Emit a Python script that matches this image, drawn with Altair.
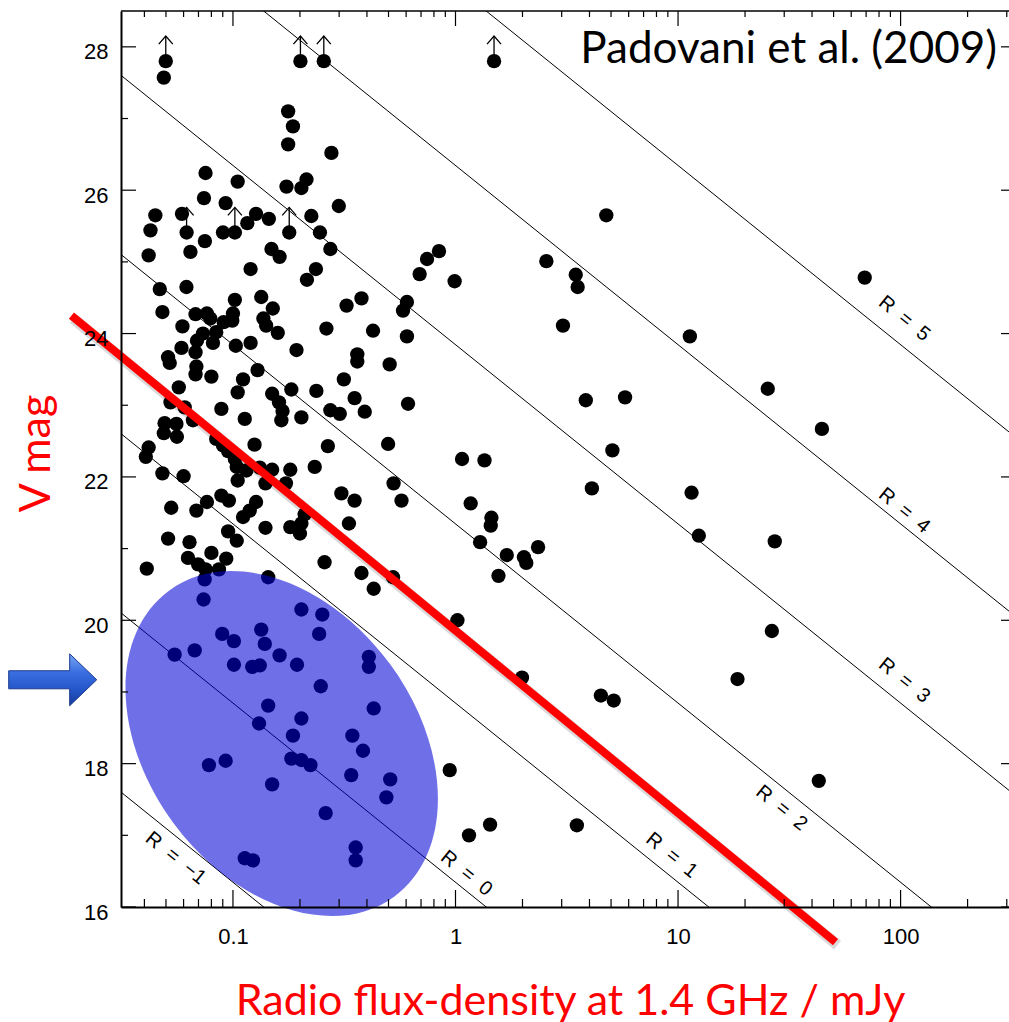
import altair as alt
import pandas as pd
import numpy as np

# ---------------- data ----------------
flux_mjy = [
    0.0499, 0.0489, 0.201, 0.256, 1.49, 0.177, 0.186, 0.177, 0.277, 0.0753,
    0.105, 0.214, 0.174, 0.203, 0.0741, 0.0927, 0.299, 0.0448, 0.0590, 0.127,
    0.145, 0.116, 0.225, 0.0426, 0.0619, 0.0902, 0.102, 0.179, 0.246, 0.0748,
    0.0418, 0.0644, 0.149, 0.162, 0.274, 0.120, 0.236, 0.215, 0.0469, 0.0618,
    0.102, 0.134, 0.151, 0.0482, 0.0679, 0.0764, 0.100, 0.0791, 0.137, 0.141,
    0.0593, 0.0908, 0.0993, 0.0733, 0.0841, 0.324, 0.378, 0.263, 0.426, 0.159,
    0.0689, 0.0813, 0.0587, 0.103, 0.120, 0.193, 0.0679, 0.0511, 0.0520, 0.362,
    0.362, 0.0685, 0.129, 0.0800, 0.111, 0.0679, 0.315, 0.0571, 0.105, 0.150,
    0.183, 0.237, 0.352, 0.391, 0.274, 0.302, 0.0524, 0.0607, 0.0887, 0.161,
    0.167, 0.165, 0.113, 0.203, 0.0661, 0.0493, 0.0557, 0.0489, 0.0560, 0.0841,
    0.125, 0.267, 0.0902, 0.0951, 0.0418, 0.0406, 0.102, 0.233, 0.0482, 0.0600,
    0.104, 0.115, 0.132, 0.150, 0.181, 0.105, 0.140, 0.173, 0.0887, 0.0959,
    0.0764, 0.307, 0.352, 0.0528, 0.0685, 0.127, 0.119, 0.111, 0.210, 0.332,
    0.140, 0.181, 0.203, 0.200, 0.0951, 0.104, 0.0511, 0.0638, 0.0800, 0.0933,
    0.0628, 0.0697, 0.0753, 0.0410, 0.0865, 0.258, 0.378, 0.429, 0.0746, 0.144,
    4.76, 0.843, 0.745, 0.690, 0.991, 2.56, 3.47, 3.54, 0.605, 0.581,
    0.605, 3.04, 0.506, 0.612, 0.498, 1.07, 1.35, 3.85, 5.78, 5.07,
    4.10, 0.527, 0.572, 1.17, 1.45, 1.44, 1.29, 1.70, 2.03, 2.08,
    2.35, 1.56, 0.524, 1.02, 1.99, 4.50, 5.14, 0.942, 1.15, 1.43,
    3.51, 11.3, 25.3, 44.3, 11.5, 12.4, 27.2, 26.4, 18.5, 42.9,
    69.0, 0.0738, 0.203, 0.252, 0.244, 0.134, 0.139, 0.0895, 0.101, 0.0547,
    0.0673, 0.101, 0.122, 0.132, 0.162, 0.194, 0.408, 0.408, 0.248, 0.429,
    0.144, 0.131, 0.203, 0.186, 0.344, 0.384, 0.0780, 0.0927, 0.183, 0.203,
    0.223, 0.340, 0.150, 0.509, 0.489, 0.261, 0.356, 0.356, 0.113, 0.123,
]
v_mag = [
    27.80, 27.57, 27.80, 27.80, 27.80, 27.10, 26.89, 26.64, 26.52, 26.24,
    26.12, 26.15, 26.05, 26.03, 25.89, 25.82, 25.78, 25.65, 25.67, 25.67,
    25.60, 25.54, 25.64, 25.44, 25.41, 25.41, 25.41, 25.41, 25.41, 25.29,
    25.09, 25.14, 25.18, 25.07, 25.18, 24.90, 24.90, 24.75, 24.62, 24.65,
    24.47, 24.51, 24.35, 24.30, 24.27, 24.28, 24.28, 24.21, 24.21, 24.11,
    24.10, 24.16, 24.18, 24.00, 24.02, 24.39, 24.49, 24.07, 24.04, 24.01,
    23.90, 23.87, 23.80, 23.83, 23.87, 23.77, 23.74, 23.67, 23.59, 23.71,
    23.61, 23.54, 23.49, 23.40, 23.36, 23.43, 23.36, 23.25, 23.18, 23.16,
    23.22, 23.20, 23.10, 22.91, 22.93, 22.88, 23.04, 22.97, 22.95, 23.04,
    22.92, 22.79, 22.81, 22.83, 22.79, 22.75, 22.74, 22.61, 22.56, 22.53,
    22.45, 22.43, 22.44, 22.36, 22.41, 22.28, 22.25, 22.14, 22.05, 22.01,
    22.14, 22.09, 22.13, 22.10, 22.10, 21.95, 21.91, 21.91, 21.74, 21.67,
    21.65, 21.77, 21.67, 21.57, 21.53, 21.65, 21.53, 21.44, 21.48, 21.35,
    21.29, 21.30, 21.35, 21.21, 21.24, 21.11, 21.14, 21.09, 20.94, 20.86,
    20.87, 20.78, 20.71, 20.72, 20.71, 20.81, 20.66, 20.44, 20.57, 20.60,
    25.65, 25.15, 25.04, 24.83, 24.73, 25.01, 24.82, 24.65, 24.44, 24.32,
    23.96, 24.11, 23.57, 23.02, 22.46, 22.25, 22.23, 23.07, 23.11, 22.37,
    21.84, 21.91, 21.67, 21.63, 21.43, 21.32, 21.09, 20.91, 20.88, 20.80,
    21.02, 20.62, 20.60, 20.00, 19.20, 18.95, 18.88, 17.91, 17.00, 17.15,
    17.14, 23.96, 23.23, 22.67, 21.78, 21.18, 21.10, 19.85, 19.18, 17.76,
    24.78, 20.29, 20.15, 20.08, 19.81, 19.87, 19.67, 19.81, 19.71, 19.52,
    19.58, 19.38, 19.35, 19.37, 19.51, 19.38, 19.49, 19.35, 19.08, 18.77,
    18.81, 18.56, 18.63, 18.39, 18.39, 18.18, 17.98, 18.04, 18.07, 18.05,
    17.98, 17.84, 17.71, 17.78, 17.53, 17.31, 16.83, 16.65, 16.68, 16.65,
]

# lower limits (upward arrows)
limit_flux = [0.0499, 0.201, 0.256, 1.49, 0.0619, 0.102, 0.179]
limit_v = [27.80, 27.80, 27.80, 27.80, 25.41, 25.41, 25.41]

# radio-loudness lines R = log S + 0.4 V - 6.538
r_values = [-1, 0, 1, 2, 3, 4, 5]
SP = "\u00a0\u00a0"
r_label_text = [f"R{SP}={SP}\u22121", f"R{SP}={SP}0", f"R{SP}={SP}1", f"R{SP}={SP}2",
                f"R{SP}={SP}3", f"R{SP}={SP}4", f"R{SP}={SP}5"]
r_label_flux = [0.0553, 1.12, 9.37, 29.2, 104, 104, 104]
r_label_v = [16.68, 16.47, 16.72, 17.38, 19.16, 21.53, 24.21]
R_ZERO = 6.538

# red dividing line (end points)
red_flux = [0.0188, 51.0]
red_v = [24.25, 15.51]

# shaded ellipse and blue arrow (centres)
ellipse_flux = [0.1656]
ellipse_v = [18.28]
arrow_flux = [0.01549]
arrow_v = [19.17]

# ticks
x_major = [0.1, 1, 10, 100]
x_minor = [0.04, 0.05, 0.06, 0.07, 0.08, 0.09,
           0.2, 0.3, 0.4, 0.5, 0.6, 0.7, 0.8, 0.9,
           2, 3, 4, 5, 6, 7, 8, 9,
           20, 30, 40, 50, 60, 70, 80, 90, 200, 300]
y_major = [16, 18, 20, 22, 24, 26, 28]
y_minor = [17, 19, 21, 23, 25, 27]

# ---------------- layout ----------------
W, H = 888, 896
xs = alt.Scale(type="log", domain=[0.0314, 307], nice=False)
ys = alt.Scale(domain=[16, 28.5], nice=False, zero=False)

AX_X = alt.Axis(
    values=x_major, format="~g", labelFont="Liberation Sans", labelFontSize=22,
    labelColor="black", labelPadding=19, ticks=False, tickSize=0, grid=False,
    domain=True, domainColor="black", domainWidth=2, labelFlush=False,
    labelOverlap=False, zindex=1,
    title="Radio flux-density at 1.4 GHz / mJy", titleFont="Lato",
    titleFontSize=43, titleFontWeight="normal", titleColor="#ff0000",
    titleX=449, titleY=107, titleAlign="center", titleBaseline="alphabetic")
AX_Y = alt.Axis(
    values=y_major, format="d", labelFont="Liberation Sans", labelFontSize=22,
    labelColor="black", labelPadding=13, labelOffset=5, ticks=False, tickSize=0,
    grid=False, domain=True, domainColor="black", domainWidth=2, zindex=1,
    labelFlush=False, labelOverlap=False,
    title="V mag", titleFont="Lato", titleFontSize=43, titleFontWeight="normal",
    titleColor="#ff0000", titleAngle=270, titleX=-72, titleY=442,
    titleAlign="center", titleBaseline="alphabetic")


def X():
    return alt.X("flux:Q", scale=xs, axis=AX_X)


def Y(field="V"):
    return alt.Y(f"{field}:Q", scale=ys, axis=AX_Y)


df = pd.DataFrame({"flux": flux_mjy, "V": v_mag})

lim = pd.DataFrame({"flux": limit_flux, "V": limit_v})
lim["Vtip"] = lim["V"] + 0.35

x_ends = [0.0314, 307]
rl_rows = []
for r in r_values:
    for s in x_ends:
        rl_rows.append({"R": r, "flux": s, "V": (r - np.log10(s) + R_ZERO) / 0.4})
rlines = pd.DataFrame(rl_rows)
rlabels = pd.DataFrame({"flux": r_label_flux, "V": r_label_v, "t": r_label_text})

r_line_layer = alt.Chart(rlines).mark_line(color="black", strokeWidth=1, clip=True).encode(
    x=X(), y=Y(), detail="R:N"
)
r_text_layer = alt.Chart(rlabels).mark_text(
    angle=39, font="Liberation Sans", fontSize=20, color="black",
    align="center", baseline="middle"
).encode(x=X(), y=Y(), text="t:N")

lim_rule = alt.Chart(lim).mark_rule(color="black", strokeWidth=1.3).encode(
    x=X(), y=Y(), y2="Vtip:Q"
)
lim_head = alt.Chart(lim).mark_point(
    shape="M -0.875 1 L 0 0 L 0.875 1", size=256, filled=False,
    color="black", strokeWidth=1.3, opacity=1
).encode(x=X(), y=Y("Vtip"))

dots = alt.Chart(df).mark_circle(size=205, color="black", opacity=1).encode(x=X(), y=Y())

red_df = pd.DataFrame({"flux": red_flux, "V": red_v})
red_shadow = alt.Chart(red_df).mark_line(
    color="#000000", opacity=0.15, strokeWidth=11, clip=False, strokeCap="butt",
    xOffset=2, yOffset=3
).encode(x=X(), y=Y())
red_line = alt.Chart(red_df).mark_line(
    color="#ff0000", strokeWidth=8, clip=False, strokeCap="butt"
).encode(x=X(), y=Y())

ELLIPSE = ("M 1 0 C 1 0.3905 0.5523 0.707 0 0.707 C -0.5523 0.707 -1 0.3905 -1 0 "
           "C -1 -0.3905 -0.5523 -0.707 0 -0.707 C 0.5523 -0.707 1 -0.3905 1 0 Z")
ellipse = alt.Chart(pd.DataFrame({"flux": ellipse_flux, "V": ellipse_v})).mark_point(
    shape=ELLIPSE, size=144400, angle=53.6, filled=True, color="#0000d4",
    opacity=0.565, strokeWidth=0, clip=False
).encode(x=X(), y=Y())

ARROW = "M -1 -0.205 L 0.386 -0.205 L 0.386 -0.59 L 1 0 L 0.386 0.59 L 0.386 0.205 L -1 0.205 Z"
arrow_grad = alt.Gradient(
    gradient="linear", x1=0, y1=0, x2=0, y2=1,
    stops=[alt.GradientStop(color="#7aa6f2", offset=0),
           alt.GradientStop(color="#3a6fe0", offset=0.35),
           alt.GradientStop(color="#2455c8", offset=0.7),
           alt.GradientStop(color="#163c9a", offset=1)])
blue_arrow = alt.Chart(pd.DataFrame({"flux": arrow_flux, "V": arrow_v})).mark_point(
    shape=ARROW, size=7744, filled=True, fill=arrow_grad, opacity=1,
    stroke="#1b3a8f", strokeWidth=1, clip=False
).encode(x=X(), y=Y())

ref_text = alt.Chart(pd.DataFrame({"flux": [271], "V": [27.77], "t": ["Padovani et al. (2009)"]})).mark_text(
    font="Lato", fontSize=44, align="right", baseline="alphabetic", color="black"
).encode(x=X(), y=Y(), text="t:N")

one = pd.DataFrame({"a": [0]})
top_border = alt.Chart(one).mark_rule(color="black", strokeWidth=1.5).encode(
    x=alt.value(0), x2=alt.value(W), y=alt.value(0)
)


def xticks(vals, y0, y1):
    return alt.Chart(pd.DataFrame({"flux": vals})).mark_rule(color="black", strokeWidth=1.2).encode(
        x=X(), y=alt.value(y0), y2=alt.value(y1))


def yticks(vals, x0, x1):
    return alt.Chart(pd.DataFrame({"V": vals})).mark_rule(color="black", strokeWidth=1.2).encode(
        y=Y(), x=alt.value(x0), x2=alt.value(x1))


ticks = [
    xticks(x_major, H, H - 17), xticks(x_minor, H, H - 8),
    xticks(x_major, 0, 15), xticks(x_minor, 0, 6),
    yticks(y_major, 0, 15), yticks(y_minor, 0, 7),
    yticks(y_major, W, W - 8),
]

chart = alt.layer(
    dots, r_line_layer, r_text_layer, lim_rule, lim_head, red_shadow, red_line, ellipse,
    blue_arrow, ref_text, top_border, *ticks
).properties(
    width=W, height=H,
    autosize=alt.AutoSizeParams(type="none"),
    padding={"left": 121, "top": 11, "right": 0, "bottom": 115},
    background="white",
).configure_view(stroke=None)

chart.save("out.html", embed_options={"renderer": "svg", "actions": False})
